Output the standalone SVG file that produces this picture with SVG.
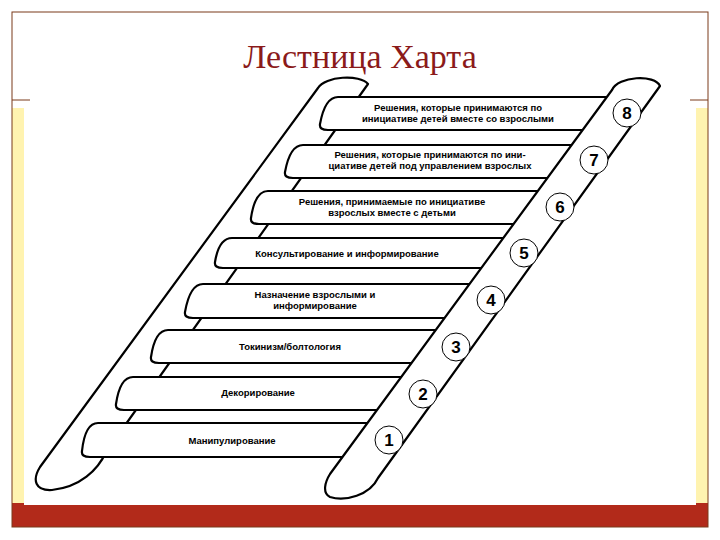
<svg xmlns="http://www.w3.org/2000/svg" width="720" height="540" viewBox="0 0 720 540">
<style>
.rail,.rung{fill:#fff;stroke:#000;stroke-width:2.2;stroke-linejoin:round}
.lbl{font-family:"Liberation Sans",Arial,sans-serif;font-weight:bold;font-size:9.5px;text-anchor:middle;fill:#000}
.num{font-family:"Liberation Sans",Arial,sans-serif;font-weight:bold;font-size:17px;text-anchor:middle;fill:#000}
.c{fill:#fff;stroke:#000;stroke-width:1}
</style>
<rect width="720" height="540" fill="#fff"/>
<rect x="12" y="108" width="12" height="400" fill="#fff3b0"/>
<rect x="696" y="108" width="12" height="400" fill="#fff3b0"/>
<rect x="12" y="503" width="696" height="24" fill="#b22a1a"/>
<rect x="24" y="108" width="672" height="397" fill="#fff"/>
<rect x="12" y="12" width="696" height="515" fill="none" stroke="#7a3a1a" stroke-width="1"/>
<line x1="12" y1="100" x2="30" y2="100" stroke="#7a3a1a"/>
<line x1="690" y1="100" x2="708" y2="100" stroke="#7a3a1a"/>
<text x="360" y="68" font-family="Liberation Serif,serif" font-size="34" fill="#8b1a1a" text-anchor="middle">Лестница Харта</text>
<g id="left-rail"><path class="rail" d="M318,88 C325,76 360,74 368,84 L106,452 C98,470 80,487 52,490 C35,491 32,480 40,467 Z"/></g>
<g id="rungs">
<g id="rung8"><path class="rung" d="M620,97 L338,97 Q325,97 320,124 Q319,130 328,130 L620,130 Z"/><text class="lbl" x="458" y="111">Решения, которые принимаются по</text><text class="lbl" x="458" y="122">инициативе детей вместе со взрослыми</text></g>
<g id="rung7"><path class="rung" d="M585,145 L303,145 Q290,145 285,172 Q284,178 293,178 L585,178 Z"/><text class="lbl" x="430" y="158">Решения, которые принимаются по ини-</text><text class="lbl" x="430" y="169">циативе детей под управлением взрослых</text></g>
<g id="rung6"><path class="rung" d="M552,191 L268,191 Q255,191 251,218 Q250,224 259,224 L552,224 Z"/><text class="lbl" x="392" y="205">Решения, принимаемые по инициативе</text><text class="lbl" x="392" y="216">взрослых вместе с детьми</text></g>
<g id="rung5"><path class="rung" d="M518,238 L232,238 Q219,238 215,262 Q214,268 223,268 L518,268 Z"/><text class="lbl" x="347" y="257">Консультирование и информирование</text></g>
<g id="rung4"><path class="rung" d="M485,284 L203,284 Q190,284 185,312 Q184,318 193,318 L485,318 Z"/><text class="lbl" x="315" y="298">Назначение взрослыми и</text><text class="lbl" x="315" y="309">информирование</text></g>
<g id="rung3"><path class="rung" d="M452,330 L168,330 Q155,330 151,357 Q150,363 159,363 L452,363 Z"/><text class="lbl" x="290" y="350">Токинизм/болтология</text></g>
<g id="rung2"><path class="rung" d="M418,377 L133,377 Q120,377 116,404 Q115,410 124,410 L418,410 Z"/><text class="lbl" x="258" y="396">Декорирование</text></g>
<g id="rung1"><path class="rung" d="M385,423 L98,423 Q85,423 82,451 Q81,457 90,457 L385,457 Z"/><text class="lbl" x="232" y="444">Манипулирование</text></g>
</g>
<g id="right-rail"><path class="rail" d="M612,90 C618,76 655,74 660,86 L378,478 C370,495 345,502 330,497 C322,493 325,482 330,474 Z"/></g>
<g id="numbers">
<g id="n8"><circle class="c" cx="627" cy="113" r="14"/><text class="num" x="627" y="119">8</text></g>
<g id="n7"><circle class="c" cx="594" cy="160" r="14"/><text class="num" x="594" y="166">7</text></g>
<g id="n6"><circle class="c" cx="560" cy="207" r="14"/><text class="num" x="560" y="213">6</text></g>
<g id="n5"><circle class="c" cx="524" cy="253" r="14"/><text class="num" x="524" y="259">5</text></g>
<g id="n4"><circle class="c" cx="491" cy="300" r="14"/><text class="num" x="491" y="306">4</text></g>
<g id="n3"><circle class="c" cx="456" cy="347" r="14"/><text class="num" x="456" y="353">3</text></g>
<g id="n2"><circle class="c" cx="423" cy="394" r="14"/><text class="num" x="423" y="400">2</text></g>
<g id="n1"><circle class="c" cx="389" cy="440" r="14"/><text class="num" x="389" y="446">1</text></g>
</g>
</svg>
